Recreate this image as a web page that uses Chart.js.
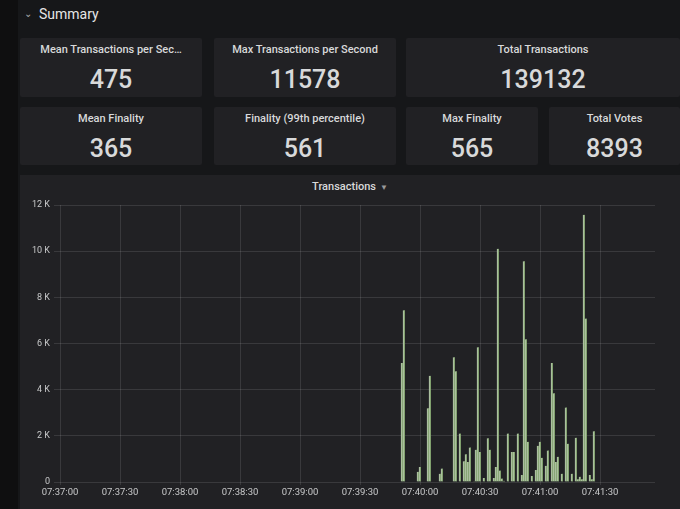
<!DOCTYPE html>
<html>
<head>
<meta charset="utf-8">
<script src="https://cdn.jsdelivr.net/npm/chart.js@4/dist/chart.umd.min.js"></script>
<style>
  html, body { margin: 0; padding: 0; }
  body {
    width: 680px; height: 509px; overflow: hidden; position: relative;
    background: #161719; font-family: Roboto, "Open Sans", sans-serif; color: #d8d9da;
  }
  .strip { position: absolute; left: 0; top: 0; width: 18px; height: 509px; background: #0f0f10; }
  .row-title { position: absolute; left: 24px; top: 6px; font-size: 14px; color: #e6e6e6; }
  .row-title .chev { display: inline-block; font-size: 10px; color: #aaa; margin-right: 7px; transform: translateY(-2px); }
  .stat {
    position: absolute; background: #212124; border-radius: 2px; text-align: center;
  }
  .stat .t { position: absolute; left: 0; right: 0; top: 5px; font-size: 11px; font-weight: 500; white-space: nowrap; }
  .stat .v { position: absolute; left: 0; right: 0; top: 27px; font-size: 25px; font-weight: 500; color: #d8d9da; }
  .graph { position: absolute; left: 20px; top: 175px; width: 660px; height: 334px; background: #212124; }
  .graph .gt { position: absolute; left: 0; right: 0; top: 5px; text-align: center; font-size: 11px; font-weight: 500; }
  .graph .gt span { color: #999; font-size: 8px; margin-left: 4px; }
  #wrap { position: absolute; left: 0; top: 20px; width: 660px; height: 307px; }
</style>
</head>
<body>
<div class="strip"></div>
<div class="row-title"><span class="chev">&#8964;</span>Summary</div>
<div id="stats"></div>
<div class="graph">
  <div class="gt">Transactions<span>&#9660;</span></div>
  <div id="wrap"><canvas id="chart"></canvas></div>
</div>
<script>
// stat panels
const statTitles = ["Mean Transactions per Sec…", "Max Transactions per Second", "Total Transactions",
                    "Mean Finality", "Finality (99th percentile)", "Max Finality", "Total Votes"];
const statValues = ["475", "11578", "139132", "365", "561", "565", "8393"];
const statBoxes = [
  [20, 38, 182, 59], [214, 38, 182, 59], [406, 38, 274, 59],
  [20, 107, 182, 58], [214, 107, 182, 58], [406, 107, 132, 58], [549, 107, 131, 58]
];

// Transactions series (time of each bar, value)
const barTimes = [
  "07:39:51", "07:39:52", "07:39:59", "07:40:00", "07:40:04", "07:40:05", "07:40:10", "07:40:11",
  "07:40:17", "07:40:18", "07:40:20", "07:40:22", "07:40:23", "07:40:24", "07:40:25", "07:40:27",
  "07:40:28", "07:40:29", "07:40:30", "07:40:32", "07:40:34", "07:40:35", "07:40:37", "07:40:38",
  "07:40:39", "07:40:40", "07:40:41", "07:40:42", "07:40:44", "07:40:46", "07:40:47", "07:40:49",
  "07:40:51", "07:40:52", "07:40:53", "07:40:54", "07:40:56", "07:40:58", "07:40:59", "07:41:00",
  "07:41:01", "07:41:03", "07:41:04", "07:41:06", "07:41:07", "07:41:08", "07:41:09", "07:41:11",
  "07:41:13", "07:41:14", "07:41:16", "07:41:18", "07:41:19", "07:41:20", "07:41:21", "07:41:22",
  "07:41:23", "07:41:25", "07:41:26", "07:41:27"
];
const barValues = [
  5160, 7440, 440, 650, 3200, 4600, 360, 580,
  5400, 4800, 2100, 900, 1200, 870, 1500, 30,
  1400, 5840, 1300, 170, 1900, 1400, 170, 650,
  10100, 500, 150, 50, 2100, 1300, 1300, 2100,
  300, 9560, 6180, 1740, 260, 520, 1570, 1740,
  1050, 700, 1370, 5150, 3840, 870, 1090, 360,
  3230, 1660, 360, 1920, 120, 230, 120, 11578,
  7080, 300, 120, 2200
];
const yTicks = [0, 2000, 4000, 6000, 8000, 10000, 12000];
const xStart = "07:37:00";

statBoxes.forEach((b, i) => {
  const d = document.createElement("div");
  d.className = "stat";
  d.style.left = b[0] + "px"; d.style.top = b[1] + "px";
  d.style.width = b[2] + "px"; d.style.height = b[3] + "px";
  d.innerHTML = `<div class="t">${statTitles[i]}</div><div class="v">${statValues[i]}</div>`;
  document.getElementById("stats").appendChild(d);
});

function toSec(s) {
  const p = s.split(":").map(Number);
  return p[0] * 3600 + p[1] * 60 + p[2];
}
const t0 = toSec(xStart);
function fmt(sec) {
  const s = t0 + sec;
  const hh = String(Math.floor(s / 3600)).padStart(2, "0");
  const mm = String(Math.floor(s / 60) % 60).padStart(2, "0");
  const ss = String(s % 60).padStart(2, "0");
  return `${hh}:${mm}:${ss}`;
}

const points = barTimes.map((t, i) => ({ x: toSec(t) - t0, y: barValues[i] }));
const gridColor = "rgba(255,255,255,0.11)";
const tickColor = "#c8c9ca";

new Chart(document.getElementById("chart"), {
  type: "bar",
  data: {
    datasets: [{
      data: points,
      backgroundColor: "rgba(134,170,114,0.9)",
      borderColor: "rgba(205,220,195,0.9)",
      borderWidth: { left: 1, top: 0, right: 0, bottom: 0 },
      borderSkipped: false,
      barThickness: 2
    }]
  },
  options: {
    responsive: true,
    maintainAspectRatio: false,
    animation: false,
    layout: { padding: { top: 10, right: 25, left: 0, bottom: 0 } },
    plugins: { legend: { display: false }, tooltip: { enabled: false } },
    scales: {
      x: {
        type: "linear",
        offset: false,
        min: 0,
        max: 297.5,
        afterBuildTicks: s => { s.ticks = s.ticks.filter(t => t.value % 30 === 0); },
        afterFit: s => { s.height = 20; },
        ticks: {
          stepSize: 30, autoSkip: false, maxRotation: 0, padding: 2,
          color: tickColor, font: { family: "Roboto", size: 9.5 },
          callback: v => fmt(v)
        },
        grid: { color: gridColor, tickLength: 3, offset: false },
        border: { display: false }
      },
      y: {
        min: 0,
        max: 12000,
        afterBuildTicks: s => { s.ticks = yTicks.map(v => ({ value: v })); },
        afterFit: s => { s.width = 40; },
        ticks: {
          padding: 4, color: tickColor, font: { family: "Roboto", size: 9 },
          callback: v => v === 0 ? "0" : (v / 1000) + " K"
        },
        grid: { color: gridColor, tickLength: 6 },
        border: { display: false }
      }
    }
  }
});
</script>
</body>
</html>
